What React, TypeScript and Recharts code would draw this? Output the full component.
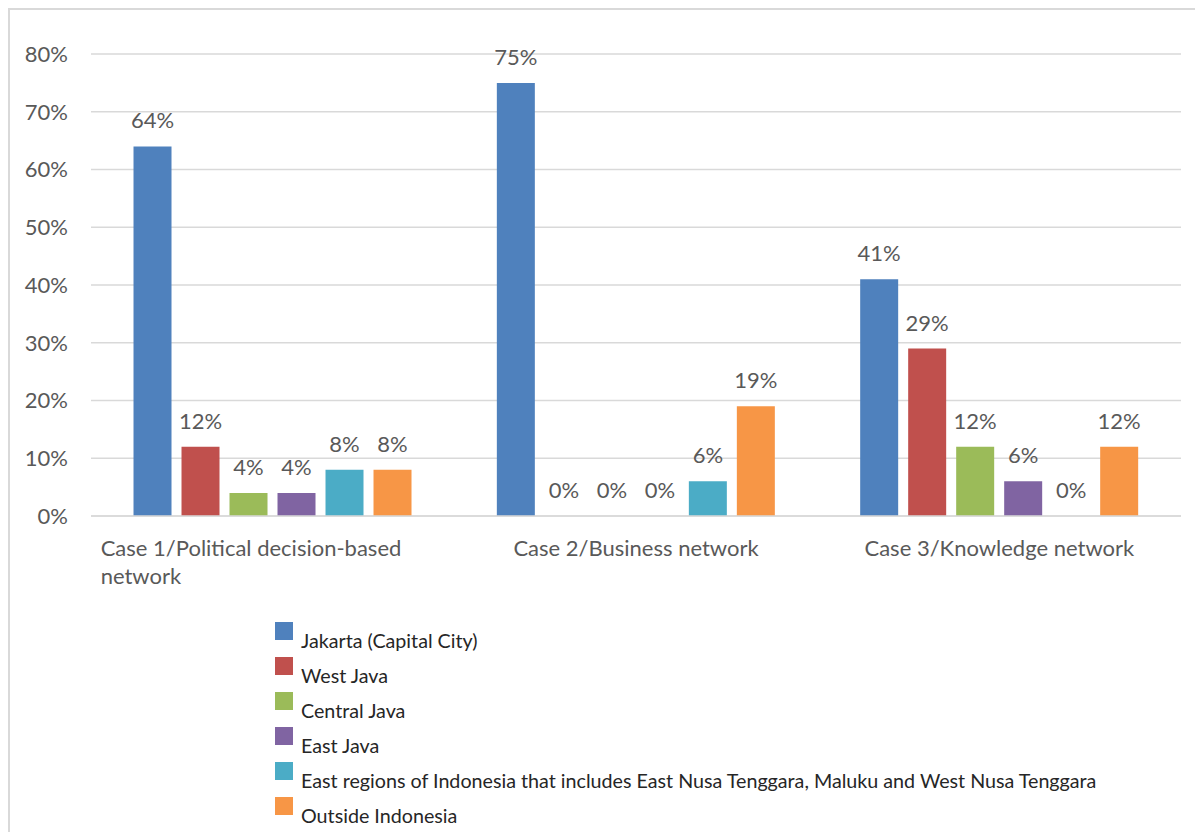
import React from "react";
import { BarChart, Bar, XAxis, YAxis, CartesianGrid, Legend, LabelList } from "recharts";

const categories = [
  "Case 1/Political decision-based network",
  "Case 2/Business network",
  "Case 3/Knowledge network",
];

const jakarta = [64, 75, 41];
const westJava = [12, 0, 29];
const centralJava = [4, 0, 12];
const eastJava = [4, 0, 6];
const eastRegions = [8, 6, 0];
const outsideIndonesia = [8, 19, 12];

const yTicks = [0, 10, 20, 30, 40, 50, 60, 70, 80];

const SERIES = [
  { key: "jakarta", name: "Jakarta (Capital City)", values: jakarta, color: "#4F81BD" },
  { key: "westJava", name: "West Java", values: westJava, color: "#C0504D" },
  { key: "centralJava", name: "Central Java", values: centralJava, color: "#9BBB59" },
  { key: "eastJava", name: "East Java", values: eastJava, color: "#8064A2" },
  {
    key: "eastRegions",
    name: "East regions of Indonesia that includes East Nusa Tenggara, Maluku and West Nusa Tenggara",
    values: eastRegions,
    color: "#4BACC6",
  },
  { key: "outside", name: "Outside Indonesia", values: outsideIndonesia, color: "#F79646" },
];

const data = categories.map((cat, i) => {
  const row: Record<string, string | number> = { name: cat };
  SERIES.forEach((s) => (row[s.key] = s.values[i]));
  return row;
});

const FONT = "Lato, 'Open Sans', sans-serif";
const TEXT = "#595959";

// wrap long category names the way the original does
const wrap = (s: string, max = 32) => {
  if (s.length <= max) return [s];
  const cut = s.lastIndexOf(" ", max);
  return [s.slice(0, cut), s.slice(cut + 1)];
};

const CategoryTick = (props: any) => {
  const { x, y, payload } = props;
  const lines = wrap(payload.value);
  const multi = lines.length > 1;
  return (
    <g transform={`translate(${x},${y})`}>
      <text
        textAnchor={multi ? "start" : "middle"}
        fill={TEXT}
        fontSize={22}
        fontFamily={FONT}
      >
        {lines.map((l, i) => (
          <tspan key={i} x={multi ? -172 : 0} y={32 + i * 28}>
            {l}
          </tspan>
        ))}
      </text>
    </g>
  );
};

const LegendContent = () => (
  <div style={{ fontFamily: FONT, fontSize: 19.7, color: "#262626" }}>
    {SERIES.map((s) => (
      <div key={s.key} style={{ display: "flex", alignItems: "flex-start", height: 35 }}>
        <span style={{ width: 18, height: 18, background: s.color, display: "inline-block", marginRight: 8, flexShrink: 0 }} />
        <span style={{ marginTop: 8, lineHeight: "22px", whiteSpace: "nowrap" }}>{s.name}</span>
      </div>
    ))}
  </div>
);

export default function App() {
  return (
    <div style={{ width: 1210, height: 840, border: "2px solid #d9d9d9", background: "#fff" }}>
      <BarChart
        width={1193}
        height={820}
        data={data}
        margin={{ top: 44, right: 22, left: 0, bottom: 254 }}
        barGap={10}
        barCategoryGap="11.7%"
      >
        <CartesianGrid vertical={false} stroke="#d9d9d9" strokeWidth={1.5} />
        <XAxis
          dataKey="name"
          height={60}
          tickLine={false}
          axisLine={{ stroke: "#d9d9d9", strokeWidth: 1.5 }}
          tick={<CategoryTick />}
          interval={0}
        />
        <YAxis
          width={81}
          domain={[0, 80]}
          ticks={yTicks}
          tickFormatter={(v: number) => `${v}%`}
          tickLine={false}
          axisLine={false}
          tickSize={0}
          tickMargin={23}
          tick={{ fill: TEXT, fontSize: 22, fontFamily: FONT }}
        />
        {SERIES.map((s) => (
          <Bar
            key={s.key}
            dataKey={s.key}
            name={s.name}
            fill={s.color}
            minPointSize={0.01}
            isAnimationActive={false}
          >
            <LabelList
              dataKey={s.key}
              position="top"
              offset={18}
              formatter={(v: any) => `${v}%`}
              style={{ fill: TEXT, fontSize: 22, fontFamily: FONT }}
            />
          </Bar>
        ))}
        <Legend
          layout="vertical"
          align="center"
          verticalAlign="middle"
          content={<LegendContent />}
          wrapperStyle={{ top: 612, left: 265, width: 920, height: 210 }}
        />
      </BarChart>
    </div>
  );
}
